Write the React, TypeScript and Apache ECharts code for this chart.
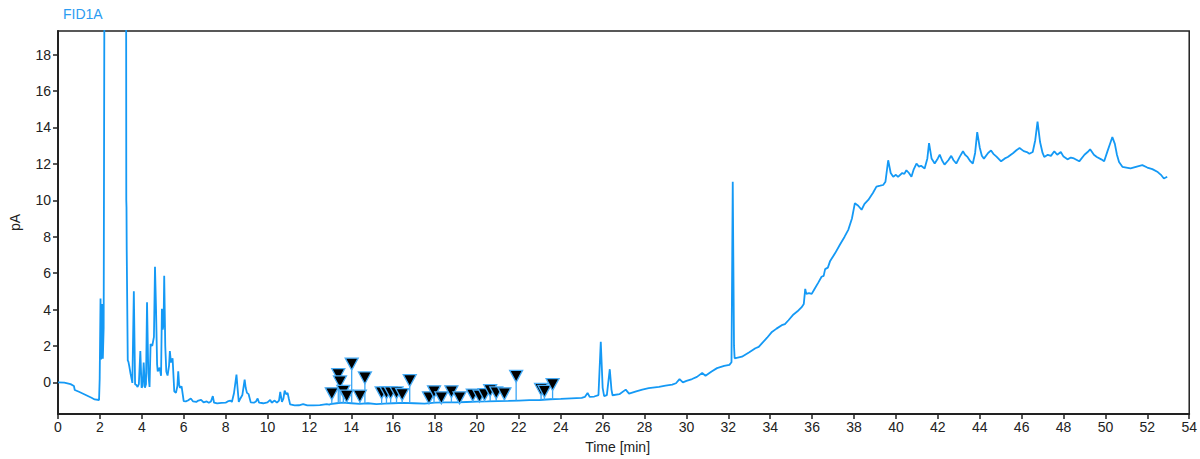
import React, { useEffect, useRef } from "react";
import * as echarts from "echarts";

const TITLE = "FID1A";
const X_NAME = "Time [min]";
const Y_NAME = "pA";
const Y_TICKS = [0, 2, 4, 6, 8, 10, 12, 14, 16, 18];

// Signal trace, [time (min), signal (pA)]
const traceEarly: [number, number][] = [
  [0, 0], [0.3, -0.02], [0.6, -0.1], [0.76, -0.2], [0.8, -0.42], [1.0, -0.52], [1.3, -0.68],
  [1.6, -0.85], [1.75, -0.94], [1.96, -0.97], [1.99, 0.2], [2.03, 4.6], [2.06, 1.25], [2.1, 4.3],
  [2.14, 1.3], [2.18, 3.0], [2.25, 40], [3.24, 40], [3.26, 10.0], [3.27, 9.6], [3.28, 7.3],
  [3.33, 1.2], [3.36, 1.14], [3.4, 0.9], [3.46, 0.5], [3.55, -0.03], [3.57, -0.05], [3.62, 5.0],
  [3.68, -0.1], [3.74, -0.15], [3.8, -0.25], [3.86, -0.1], [3.93, 1.72], [3.99, -0.3], [4.04, -0.2],
  [4.09, 1.09], [4.15, -0.3], [4.2, -0.1], [4.25, 4.4], [4.31, 0.5], [4.37, -0.25], [4.42, 2.1],
  [4.5, 2.0], [4.58, 2.5], [4.63, 6.35], [4.68, 4.0], [4.73, 1.0], [4.76, 0.6], [4.85, 0.8],
  [4.92, 0.36], [4.96, 4.04], [5.0, 2.9], [5.04, 3.2], [5.07, 5.86], [5.12, 2.0], [5.17, 0.6],
  [5.23, 0.37], [5.3, 0.9], [5.34, 1.72], [5.39, 1.1], [5.42, 1.09], [5.47, 1.32], [5.55, -0.49],
  [5.63, -0.58], [5.7, -0.2], [5.74, 0.6], [5.78, -0.1], [5.82, -0.3], [5.9, -0.22], [5.96, -0.7],
];
const traceMid: [number, number][] = [
  [6.0, -1.03], [6.1, -1.05], [6.2, -1.0], [6.34, -0.89], [6.45, -1.05], [6.6, -1.08], [6.7, -1.0],
  [6.83, -0.96], [6.95, -1.1], [7.1, -1.05], [7.2, -1.12], [7.3, -1.05], [7.39, -0.76], [7.45, -1.12],
  [7.6, -1.16], [7.8, -1.13], [8.0, -1.12], [8.1, -1.05], [8.23, -1.0], [8.3, -1.08], [8.4, -0.6],
  [8.52, 0.42], [8.57, -0.3], [8.63, -1.07], [8.7, -0.9], [8.8, -0.7], [8.91, 0.15], [8.96, -0.3],
  [9.02, -0.58], [9.1, -0.65], [9.2, -1.1], [9.35, -1.12], [9.45, -1.05], [9.53, -0.89], [9.6, -1.12],
  [9.8, -1.15], [10.0, -1.1], [10.13, -0.96], [10.2, -1.12], [10.34, -1.0], [10.45, -1.12],
  [10.55, -1.0], [10.61, -0.53], [10.65, -0.8], [10.69, -1.07], [10.76, -0.9], [10.82, -0.45],
  [10.9, -0.67], [10.96, -0.58], [11.02, -0.9], [11.08, -1.21], [11.3, -1.27], [11.5, -1.26],
  [11.7, -1.2], [11.9, -1.27], [12.2, -1.27], [12.5, -1.25], [12.83, -1.2], [12.95, -1.22],
  [13.0, -1.2], [13.3, -1.15], [13.6, -1.12], [14.0, -1.15], [14.4, -1.18], [14.8, -1.15],
  [15.2, -1.2], [15.6, -1.17], [16.0, -1.15], [16.5, -1.13], [17.0, -1.15], [17.5, -1.17],
  [18.0, -1.12], [18.5, -1.1], [19.0, -1.1], [19.5, -1.08], [20.0, -1.06], [20.5, -1.05],
  [21.0, -1.03], [21.5, -1.02], [22.0, -1.0], [22.5, -0.98], [23.0, -0.97], [23.5, -0.93],
  [24.0, -0.91], [24.5, -0.88], [25.0, -0.85], [25.15, -0.8], [25.28, -0.58], [25.38, -0.8],
  [25.6, -0.78], [25.8, -0.7], [25.91, 2.23], [26.0, -0.3], [26.07, -0.76], [26.2, -0.7],
  [26.34, 0.72], [26.42, -0.4], [26.47, -0.71], [26.8, -0.65], [27.1, -0.4], [27.26, -0.62],
  [27.6, -0.5], [27.89, -0.4], [28.2, -0.32], [28.69, -0.25], [29.0, -0.18], [29.32, -0.13],
  [29.5, -0.05], [29.67, 0.18], [29.83, 0.0], [30.0, 0.08], [30.27, 0.18], [30.5, 0.3],
  [30.75, 0.51], [30.91, 0.36], [31.2, 0.6], [31.46, 0.78], [31.8, 0.9], [32.05, 0.96],
  [32.15, 1.1], [32.21, 11.02], [32.27, 2.0], [32.3, 1.32], [32.65, 1.41], [33.0, 1.65],
];
const traceLate: [number, number][] = [
  [33.29, 1.87], [33.45, 1.95], [33.6, 2.14], [33.85, 2.45], [34.08, 2.77], [34.3, 2.95], [34.55, 3.14],
  [34.7, 3.2], [34.87, 3.41], [35.11, 3.73], [35.3, 3.9], [35.5, 4.13], [35.6, 4.3], [35.67, 5.13],
  [35.72, 4.86], [35.85, 4.9], [35.98, 4.86], [36.1, 5.1], [36.3, 5.49], [36.45, 5.8], [36.55, 5.85],
  [36.62, 6.22], [36.75, 6.3], [36.86, 6.67], [37.1, 7.1], [37.33, 7.57], [37.55, 8.0], [37.73, 8.39],
  [37.9, 9.0], [38.04, 9.84], [38.2, 9.7], [38.36, 9.48], [38.5, 9.8], [38.68, 10.02], [38.9, 10.4],
  [39.07, 10.75], [39.25, 10.8], [39.39, 10.84], [39.5, 11.02], [39.63, 12.2], [39.75, 11.5],
  [39.87, 11.29], [40.0, 11.4], [40.1, 11.29], [40.3, 11.5], [40.4, 11.45], [40.5, 11.65],
  [40.62, 11.5], [40.74, 11.29], [40.85, 11.7], [40.98, 12.02], [41.1, 11.85], [41.2, 11.9],
  [41.37, 11.75], [41.5, 12.3], [41.58, 13.14], [41.7, 12.3], [41.85, 12.02], [42.0, 12.3],
  [42.09, 12.51], [42.2, 12.2], [42.32, 11.96], [42.5, 12.2], [42.64, 12.44], [42.75, 12.2],
  [42.88, 12.02], [43.05, 12.4], [43.2, 12.69], [43.3, 12.5], [43.4, 12.4], [43.55, 12.15],
  [43.67, 12.02], [43.78, 12.6], [43.88, 13.74], [44.0, 12.9], [44.1, 12.45], [44.2, 12.29],
  [44.4, 12.6], [44.54, 12.74], [44.65, 12.55], [44.8, 12.4], [45.02, 12.14], [45.2, 12.3],
  [45.34, 12.38], [45.6, 12.6], [45.75, 12.75], [45.9, 12.87], [46.1, 12.7], [46.25, 12.65],
  [46.37, 12.56], [46.53, 12.65], [46.65, 13.3], [46.76, 14.32], [46.88, 13.2], [47.0, 12.6],
  [47.08, 12.38], [47.25, 12.5], [47.4, 12.44], [47.56, 12.69], [47.7, 12.5], [47.87, 12.65],
  [48.0, 12.4], [48.19, 12.25], [48.35, 12.35], [48.5, 12.3], [48.75, 12.14], [49.0, 12.5],
  [49.15, 12.65], [49.27, 12.8], [49.45, 12.5], [49.59, 12.38], [49.8, 12.25], [49.94, 12.14],
  [50.1, 12.7], [50.25, 13.2], [50.33, 13.47], [50.45, 13.1], [50.55, 12.5], [50.65, 12.1],
  [50.81, 11.84], [51.0, 11.8], [51.2, 11.75], [51.5, 11.85], [51.76, 11.93], [52.0, 11.8],
  [52.24, 11.71], [52.5, 11.55], [52.65, 11.4], [52.79, 11.2], [52.95, 11.29],
];

// Integrated peak markers
const markerTimes = [
  13.07, 13.38, 13.46, 13.62, 13.78, 14.02, 14.41, 14.65, 15.45, 15.68, 15.88, 16.16, 16.43, 16.79,
  17.71, 17.95, 18.3, 18.78, 19.17, 19.8, 20.12, 20.36, 20.63, 20.92, 21.31, 21.87, 23.06, 23.22, 23.61,
];
const markerPeaks = [
  -0.96, 0.09, -0.31, -0.82, -1.09, 0.67, -1.09, -0.09, -0.91, -0.91, -0.91, -0.91, -1.0, -0.23,
  -1.18, -0.85, -1.18, -0.85, -1.18, -1.03, -1.09, -1.0, -0.78, -0.91, -0.96, 0.0, -0.72, -0.82, -0.45,
];
const markerBases = [
  -1.18, -1.15, -1.15, -1.13, -1.13, -1.15, -1.18, -1.16, -1.2, -1.18, -1.17, -1.15, -1.14, -1.14,
  -1.16, -1.13, -1.12, -1.11, -1.1, -1.08, -1.06, -1.06, -1.05, -1.04, -1.03, -1.0, -0.97, -0.97, -0.94,
];

const LINE_COLOR = "#1499f5";
const AXIS_COLOR = "#222";
const FONT = "'Liberation Sans', Arial, sans-serif";

export default function App() {
  const ref = useRef<HTMLDivElement>(null);
  useEffect(() => {
    if (!ref.current) return;
    const chart = echarts.init(ref.current, undefined, { renderer: "svg" });
    const trace = [...traceEarly, ...traceMid, ...traceLate];
    const stems: any[] = [];
    markerTimes.forEach((t, i) => {
      stems.push([t, markerBases[i]]);
      stems.push([t, markerPeaks[i]]);
      stems.push("-");
    });
    const markers = markerTimes.map((t, i) => [t, markerPeaks[i]]);
    chart.setOption({
      animation: false,
      textStyle: { fontFamily: FONT },
      title: {
        text: TITLE,
        left: 58,
        top: 2,
        textStyle: { color: "#2b9cf2", fontSize: 14, fontWeight: "normal", fontFamily: FONT },
      },
      grid: {
        left: 57,
        right: 8,
        top: 31,
        bottom: 41,
        show: true,
        borderColor: AXIS_COLOR,
        borderWidth: 1.5,
        backgroundColor: "transparent",
      },
      xAxis: {
        type: "value",
        min: 0,
        max: 54,
        interval: 2,
        name: X_NAME,
        nameLocation: "middle",
        nameGap: 26,
        nameTextStyle: { color: AXIS_COLOR, fontSize: 14, fontFamily: FONT, padding: [0, 12, 0, 0] },
        axisLine: { show: true, onZero: false, lineStyle: { color: AXIS_COLOR, width: 2 } },
        axisTick: { show: true, length: 5, lineStyle: { color: AXIS_COLOR, width: 1.5 } },
        axisLabel: { color: AXIS_COLOR, fontSize: 14, margin: 6, fontFamily: FONT },
        splitLine: { show: false },
      },
      yAxis: {
        type: "value",
        min: -1.74,
        max: 19.3,
        name: Y_NAME,
        nameLocation: "middle",
        nameGap: 36,
        nameRotate: 90,
        nameTextStyle: { color: AXIS_COLOR, fontSize: 14, fontFamily: FONT },
        axisLine: { show: true, onZero: false, lineStyle: { color: AXIS_COLOR, width: 2 } },
        axisTick: { show: true, length: 5, customValues: Y_TICKS, lineStyle: { color: AXIS_COLOR, width: 1.5 } },
        axisLabel: { color: AXIS_COLOR, fontSize: 14, margin: 7, customValues: Y_TICKS, fontFamily: FONT },
        splitLine: { show: false },
      },
      series: [
        {
          type: "line",
          data: trace,
          showSymbol: false,
          symbol: "none",
          lineStyle: { color: LINE_COLOR, width: 1.8 },
          clip: true,
          z: 2,
        },
        {
          type: "line",
          data: stems,
          showSymbol: false,
          symbol: "none",
          connectNulls: false,
          lineStyle: { color: "#3aa6f5", width: 1.3 },
          z: 3,
        },
        {
          type: "scatter",
          data: markers,
          symbol: "path://M0 0L12 0L6 11Z",
          symbolKeepAspect: false,
          symbolSize: [13, 12],
          symbolOffset: [0, -6],
          itemStyle: { color: "#000", borderColor: "#48adf7", borderWidth: 1.3, opacity: 1 },
          z: 4,
        },
      ],
    });
    return () => chart.dispose();
  }, []);
  return (
    <div
      ref={ref}
      style={{ position: "fixed", left: 0, top: 0, width: 1200, height: 459, background: "#fff" }}
    />
  );
}
